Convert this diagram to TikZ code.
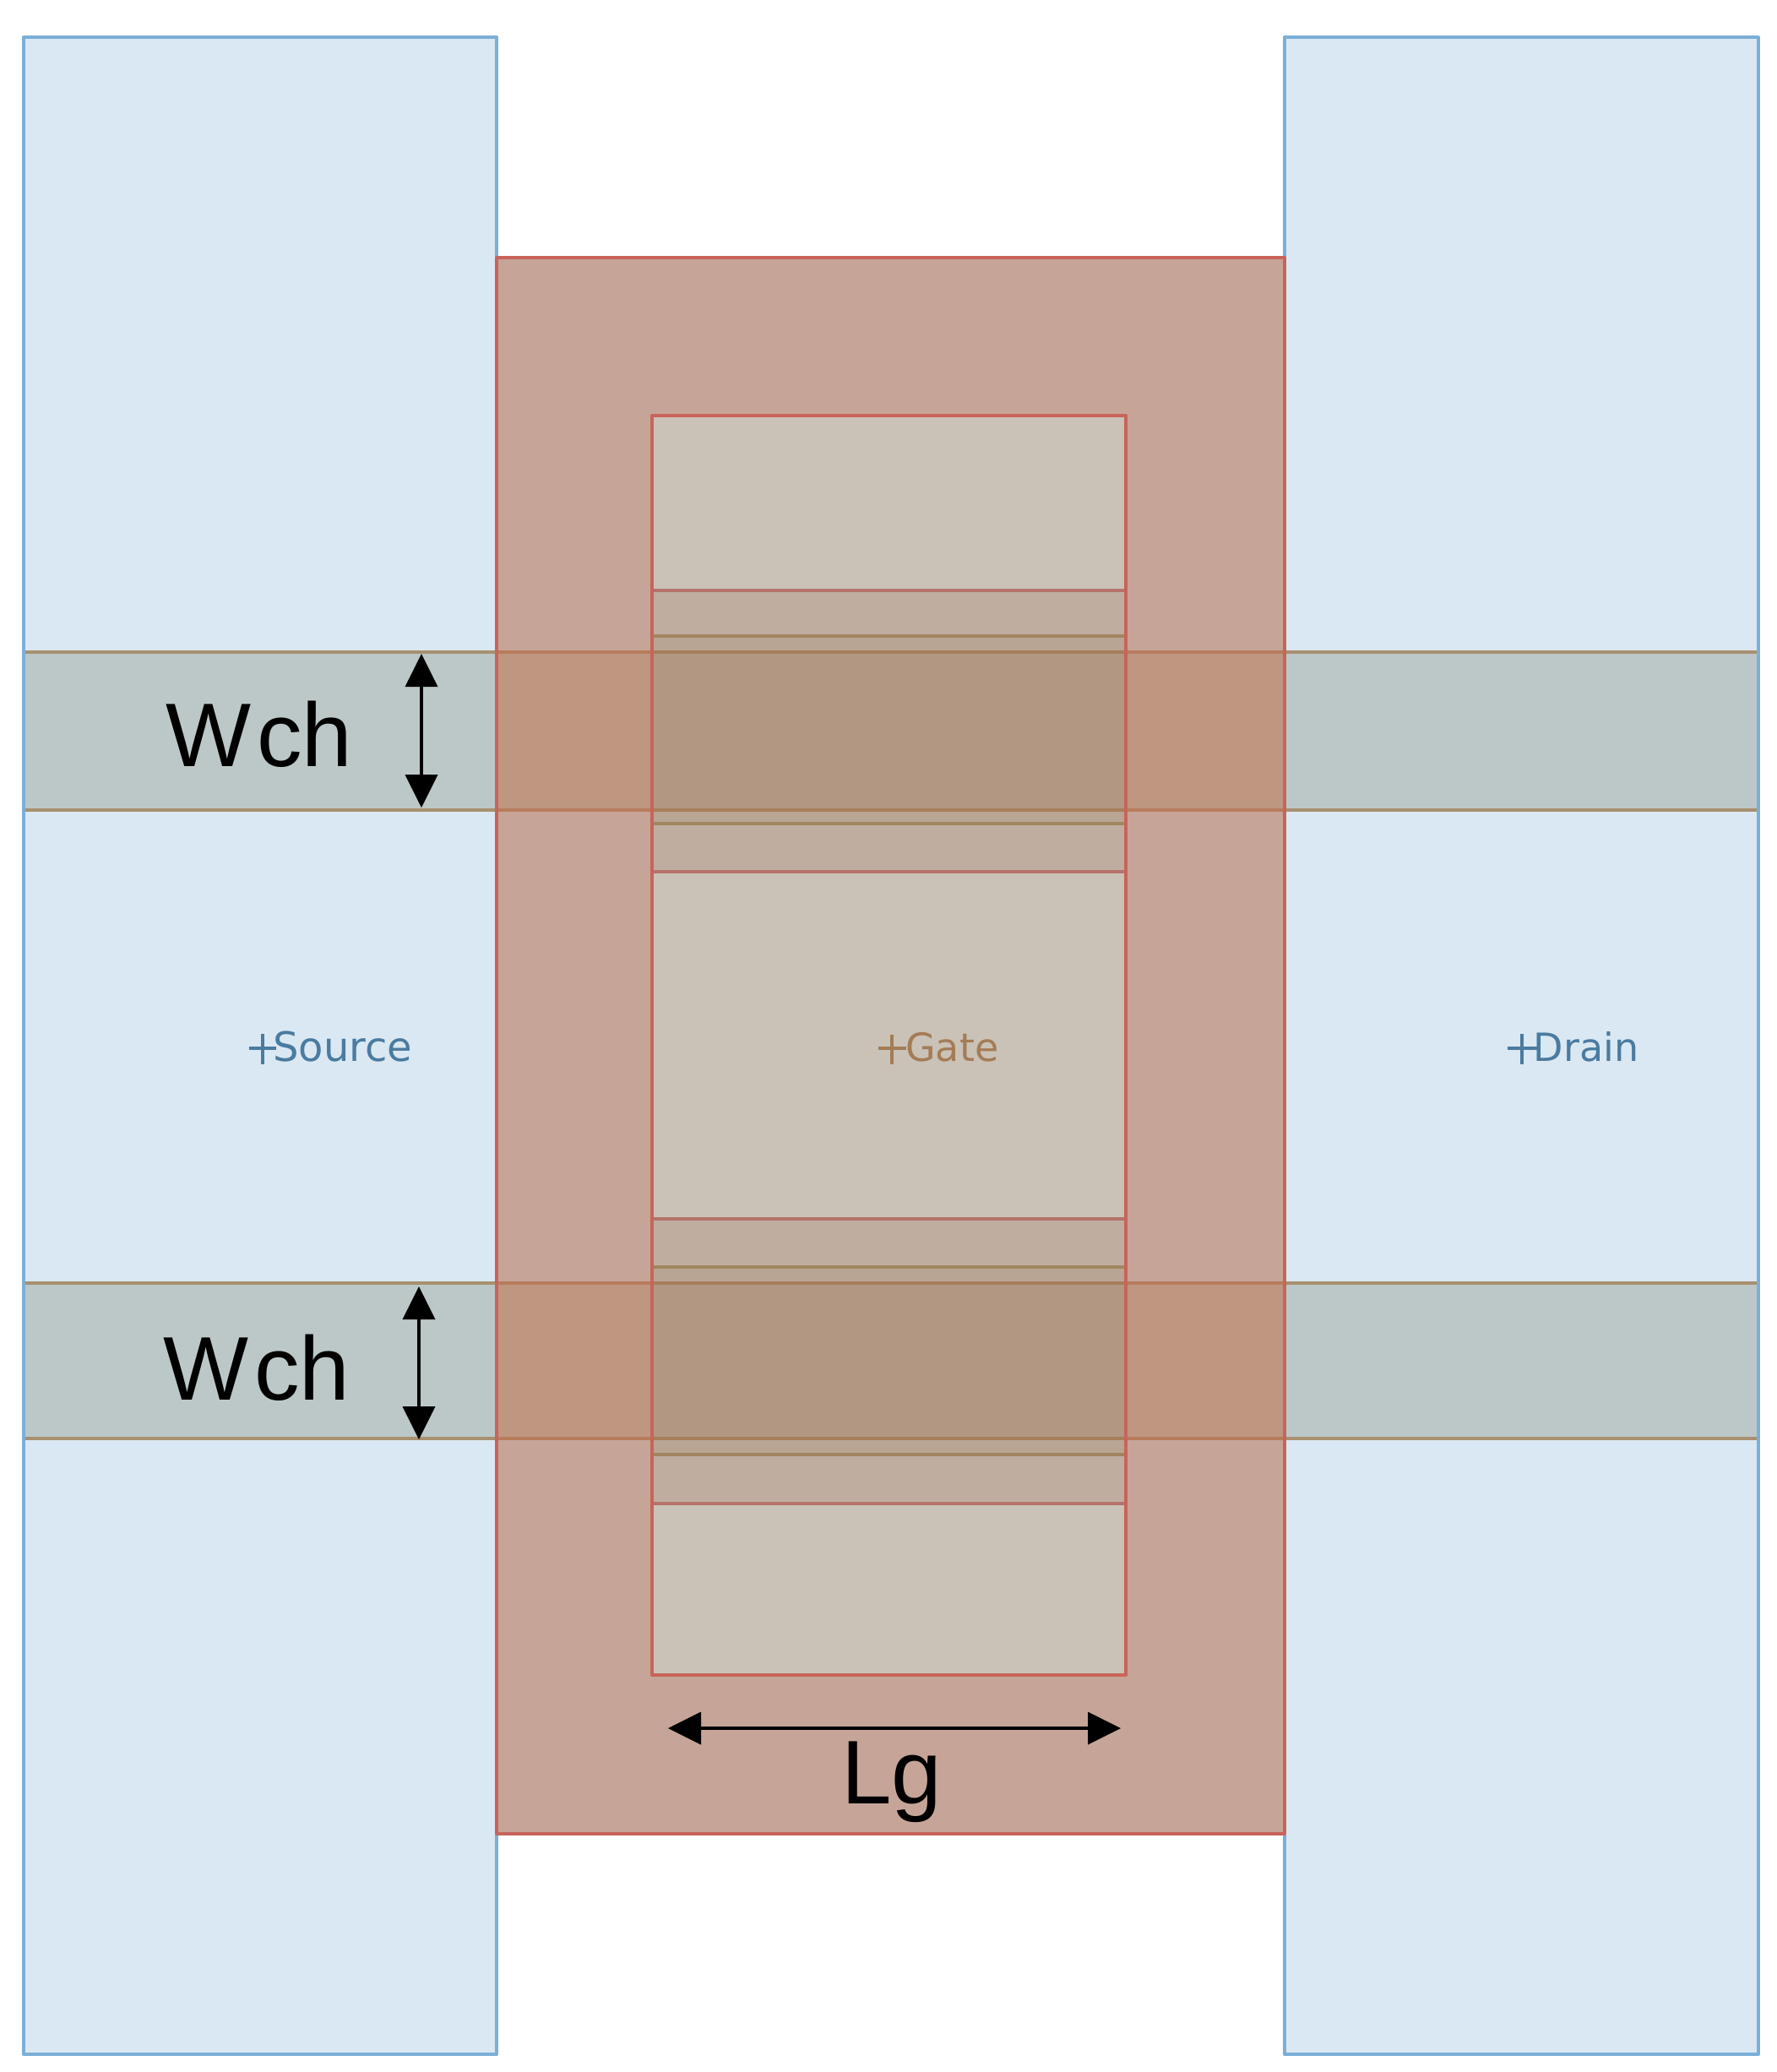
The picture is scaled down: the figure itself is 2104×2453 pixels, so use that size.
\documentclass[tikz,border=0pt]{standalone}
\usepackage{fontspec}
\setmainfont{Liberation Sans}
\newfontfamily\labelfont{DejaVu Sans}
\usetikzlibrary{arrows.meta}
\definecolor{bluefill}{HTML}{DAE8F3}
\definecolor{bluestroke}{HTML}{7BAFD8}
\definecolor{chanfill}{HTML}{BCC8C8}
\definecolor{chanstroke}{HTML}{A89070}
\definecolor{redfill}{HTML}{C6A598}
\definecolor{redstroke}{HTML}{C8645A}
\definecolor{redchan}{HTML}{BF9680}
\definecolor{redchanline}{HTML}{B87C5C}
\definecolor{gatefill}{HTML}{CAC2B7}
\definecolor{stripefill}{HTML}{BFAE9F}
\definecolor{stripeline}{HTML}{B5736A}
\definecolor{midfill}{HTML}{B9A594}
\definecolor{midline}{HTML}{A08660}
\definecolor{darkfill}{HTML}{B29883}
\definecolor{darkline}{HTML}{A67E5A}
\definecolor{bluetext}{HTML}{4A7BA0}
\definecolor{browntext}{HTML}{A47C55}
\tikzset{
  edge/.style={line width=4pt,line join=round},
  contact/.style={edge,fill=bluefill,draw=bluestroke},
  big/.style={anchor=base west,inner sep=0pt,text=black,font=\fontsize{107}{107}\selectfont},
  small/.style={anchor=base west,inner sep=0pt,font=\fontsize{46}{46}\selectfont\labelfont},
  dim/.style={line width=3.5pt,draw=black,{Triangle[length=39pt,width=39pt,fill=black,line width=0pt]}-{Triangle[length=39pt,width=39pt,fill=black,line width=0pt]}},
  cross/.style={line width=3.5pt}
}
\begin{document}
\begin{tikzpicture}[x=1pt,y=-1pt]
\useasboundingbox (0,0) rectangle (2104,2453);
\fill[white] (0,0) rectangle (2104,2453);
% source and drain contacts
\draw[contact] (28,44) rectangle (588,2432);
\draw[contact] (1521,44) rectangle (2082,2432);
% channels
\foreach \ya/\yb in {772/959,1519/1703}{
  \fill[chanfill] (30,\ya) rectangle (2080,\yb);
  \draw[edge,chanstroke] (30,\ya) -- (2080,\ya);
  \draw[edge,chanstroke] (30,\yb) -- (2080,\yb);
}
% gate metal
\fill[redfill] (588,305) rectangle (1521,2171);
\foreach \ya/\yb in {772/959,1519/1703}{
  \fill[redchan] (588,\ya) rectangle (1521,\yb);
  \draw[edge,redchanline] (588,\ya) -- (1521,\ya);
  \draw[edge,redchanline] (588,\yb) -- (1521,\yb);
}
\draw[edge,redstroke] (588,305) rectangle (1521,2171);
% gate inner opening
\fill[gatefill] (772,492) rectangle (1333,1983);
\foreach \ya/\yb/\yc/\yd/\ye/\yf in {699/753/772/959/975/1032,1443/1500/1519/1703/1722/1780}{
  \fill[stripefill] (772,\ya) rectangle (1333,\yf);
  \fill[midfill] (772,\yb) rectangle (1333,\ye);
  \fill[darkfill] (772,\yc) rectangle (1333,\yd);
  \draw[edge,stripeline] (772,\ya) -- (1333,\ya);
  \draw[edge,stripeline] (772,\yf) -- (1333,\yf);
  \draw[edge,midline] (772,\yb) -- (1333,\yb);
  \draw[edge,midline] (772,\ye) -- (1333,\ye);
  \draw[edge,darkline] (772,\yc) -- (1333,\yc);
  \draw[edge,darkline] (772,\yd) -- (1333,\yd);
}
\draw[edge,redstroke] (772,492) rectangle (1333,1983);
% dimension arrows
\coordinate (w1t) at (499,774);
\coordinate (w1b) at (499,956);
\coordinate (w2t) at (496,1523);
\coordinate (w2b) at (496,1704);
\coordinate (lgl) at (791,2046);
\coordinate (lgr) at (1327,2046);
\draw[dim] (w1t) -- (w1b);
\draw[dim] (w2t) -- (w2b);
\draw[dim] (lgl) -- (lgr);
% labels
\node[big] (wch1) at (196,907) {W\kern7pt ch};
\node[big] (wch2) at (193,1657) {W\kern7pt ch};
\node[big] (lg) at (996,2135) {Lg};
\draw[cross,bluetext] (295,1241) -- (327,1241) (311,1224) -- (311,1260);
\node[small,text=bluetext,font=\fontsize{48}{48}\selectfont\labelfont] (source) at (323,1256) {Source};
\draw[cross,browntext] (1040,1241) -- (1073,1241) (1056,1225) -- (1056,1260);
\node[small,text=browntext] (gate) at (1072,1256) {Gate};
\draw[cross,bluetext] (1785,1241) -- (1820,1241) (1802,1224) -- (1802,1260);
\node[small,text=bluetext] (drain) at (1815.5,1256) {Drain};
\end{tikzpicture}
\end{document}
